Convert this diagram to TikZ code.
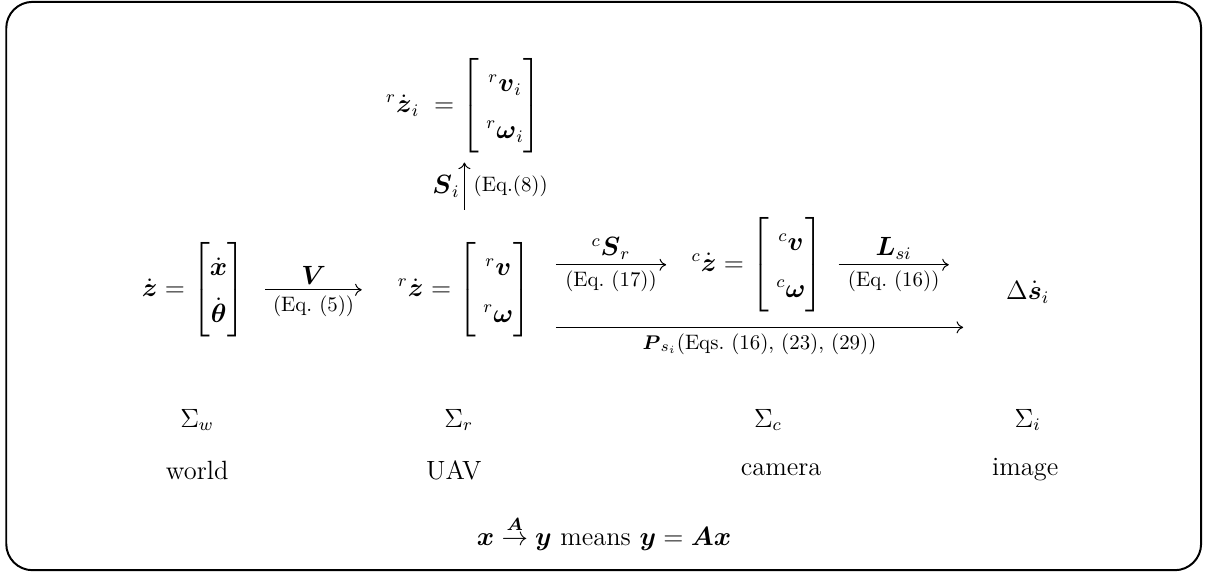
\documentclass[tikz,border=0pt]{standalone}
\usepackage{amsmath,amssymb}
\usepackage{tikz}
\usetikzlibrary{arrows.meta, positioning}
\renewcommand{\arraystretch}{1.5}

\begin{document}
\begin{tikzpicture}[
  eqn/.style={font=\large, inner sep=2pt},
  sym/.style={font=\large, inner sep=2pt},
  eqref/.style={font=\fontsize{9.5}{11}\selectfont, inner sep=2.5pt},
  frame/.style={font=\large},
  arrow/.style={-{Computer Modern Rightarrow[length=3pt, width=5.5pt]}, line width=0.45pt}
]
\useasboundingbox (-9.65,-4.57) rectangle (9.65,4.57);

% Outer frame
\draw[line width=0.9pt, rounded corners=0.42cm] (-9.55,-4.54) rectangle (9.54,4.54);

% Velocities
\node[eqn] (rzi) at (-2.24, 2.88) {${}^{r}\dot{\boldsymbol{z}}_i \;= \begin{bmatrix} \;{}^{r}\boldsymbol{v}_i \\ \;{}^{r}\boldsymbol{\omega}_i \end{bmatrix}$};
\node[eqn] (zd) at (-6.56, -0.06) {$\dot{\boldsymbol{z}} = \begin{bmatrix} \dot{\boldsymbol{x}} \\ \dot{\boldsymbol{\theta}} \end{bmatrix}$};
\node[eqn] (rz) at (-2.23, -0.06) {${}^{r}\dot{\boldsymbol{z}} = \begin{bmatrix} \;{}^{r}\boldsymbol{v} \\ \;{}^{r}\boldsymbol{\omega} \end{bmatrix}$};
\node[eqn] (cz) at (2.45, 0.34) {${}^{c}\dot{\boldsymbol{z}} = \begin{bmatrix} \;{}^{c}\boldsymbol{v} \\ \;{}^{c}\boldsymbol{\omega} \end{bmatrix}$};
\node[eqn] (ds) at (6.77, -0.10) {$\Delta\dot{\boldsymbol{s}}_i$};

% Mappings
\draw[arrow] ([yshift=0.44cm]rz.north) -- node[left, sym]{$\boldsymbol{S}_i$} node[right, eqref, inner sep=4pt]{(Eq.(8))} ([yshift=-0.07cm]rz.north |- rzi.south);
\draw[arrow] ([xshift=0.25cm]zd.east) -- node[above, sym]{$\boldsymbol{V}$} node[below, eqref]{(Eq.~(5))} ([xshift=-0.50cm]rz.west);
\draw[arrow] ([xshift=0.32cm]rz.east |- cz.west) -- node[above, sym]{${}^{c}\boldsymbol{S}_r$} node[below, eqref]{(Eq.~(17))} ([xshift=-0.33cm]cz.west);
\draw[arrow] ([xshift=0.17cm]cz.east) -- node[above, sym]{$\boldsymbol{L}_{si}$} node[below, eqref]{(Eq.~(16))} ([xshift=-0.84cm]ds.west |- cz.east);
\draw[arrow] ([xshift=0.32cm, yshift=-0.6cm]rz.east) -- node[below, eqref]{$\boldsymbol{P}_{s_i}$(Eqs.~(16), (23), (29))} ([xshift=-0.61cm, yshift=-0.6cm]rz.east -| ds.west);

% Frames
\node[frame] (sw) at (-6.50, -2.14) {$\Sigma_w$};
\node[frame] (sr) at (-2.32, -2.14) {$\Sigma_r$};
\node[frame] (sc) at (2.62, -2.14) {$\Sigma_c$};
\node[frame] (si) at (6.77, -2.14) {$\Sigma_i$};

\node[frame] (lw) at (-6.50, -2.94) {world};
\node[frame] (lr) at (-2.40, -2.94) {UAV};
\node[frame] (lc) at (2.83, -2.94) {camera};
\node[frame] (li) at (6.73, -2.94) {image};

% Notation
\node[frame] (note) at (0, -3.95) {$\boldsymbol{x} \stackrel{\boldsymbol{A}}{\to} \boldsymbol{y}$ means $\boldsymbol{y} = \boldsymbol{A}\boldsymbol{x}$};

\end{tikzpicture}
\end{document}
